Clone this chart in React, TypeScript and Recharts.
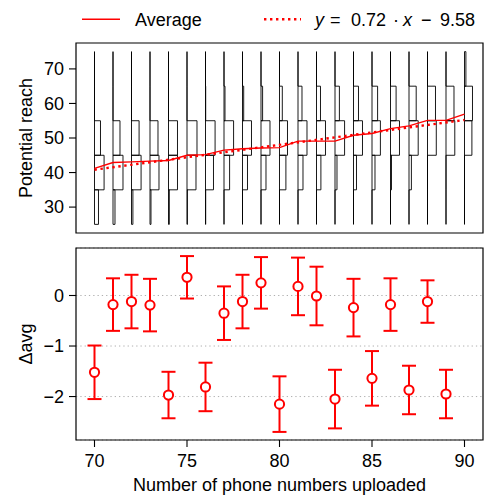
import React from 'react';
import {
  ComposedChart,
  ScatterChart,
  Line,
  Scatter,
  ErrorBar,
  XAxis,
  YAxis,
  CartesianGrid,
  ReferenceArea,
  Legend,
} from 'recharts';

// x positions (phone numbers uploaded)
const uploads = [70, 71, 72, 73, 74, 75, 76, 77, 78, 79, 80, 81, 82, 83, 84, 85, 86, 87, 88, 89, 90];

// reach bins, edges
const reachEdges = [25, 35, 45, 55, 65, 75];

// share of users per bin, per upload count (drawn as half-histograms to the right of x)
const bin25 = [0.2, 0.1, 0.07, 0.05, 0.04, 0.02, 0.01, 0, 0, 0, 0, 0, 0, 0, 0, 0, 0, 0, 0, 0, 0];
const bin35 = [0.48, 0.5, 0.48, 0.45, 0.45, 0.45, 0.4, 0.28, 0.25, 0.25, 0.32, 0.25, 0.22, 0.1, 0.15, 0.15, 0.05, 0.12, 0, 0, 0];
const bin45 = [0.3, 0.35, 0.38, 0.4, 0.45, 0.5, 0.48, 0.48, 0.45, 0.45, 0.4, 0.45, 0.45, 0.48, 0.45, 0.42, 0.45, 0.46, 0.44, 0.44, 0.37];
const bin55 = [0, 0, 0, 0, 0, 0, 0.01, 0.05, 0.06, 0.08, 0.14, 0.2, 0.2, 0.22, 0.25, 0.28, 0.28, 0.36, 0.4, 0.4, 0.4];
const bin65 = [0, 0, 0, 0, 0, 0, 0, 0, 0, 0, 0, 0, 0, 0, 0, 0, 0, 0, 0, 0, 0.07];

// average reach
const avgReach = [41.2, 42.9, 43.1, 43.3, 43.5, 45.0, 45.2, 46.5, 46.9, 47.1, 47.2, 49.1, 49.1, 49.1, 50.8, 51.3, 52.7, 53.5, 55.1, 55.1, 56.9];

// fit line y = 0.72x - 9.58, endpoints
const fitX = [70, 90];
const fitY = [40.82, 55.22];

// lower panel: delta of average with error
const deltaX = [70, 71, 72, 73, 74, 75, 76, 77, 78, 79, 80, 81, 82, 83, 84, 85, 86, 87, 88, 89];
const deltaAvg = [-1.52, -0.18, -0.12, -0.19, -1.97, 0.36, -1.81, -0.35, -0.12, 0.25, -2.15, 0.18, -0.01, -2.05, -0.24, -1.64, -0.18, -1.87, -0.12, -1.95];
const deltaErr = [0.53, 0.52, 0.53, 0.52, 0.46, 0.42, 0.48, 0.53, 0.53, 0.51, 0.55, 0.57, 0.58, 0.58, 0.57, 0.54, 0.52, 0.48, 0.42, 0.48];

const xTicks = [70, 75, 80, 85, 90];
const reachTicks = [30, 40, 50, 60, 70];
const deltaTicks = [-2, -1, 0];

const FONT = '"Liberation Sans", Arial, Helvetica, sans-serif';
const FS = 18;
const SHARE_TO_X = 1.08;
const RED = '#ff0000';

const bins = [bin25, bin35, bin45, bin55, bin65];

// outline of every box of one half-histogram, plus the spine at x
function histPath(i: number) {
  const x = uploads[i];
  const pts = [{ x, y: reachEdges[0] }];
  bins.forEach((b, k) => {
    const w = b[i] * SHARE_TO_X;
    pts.push({ x: x + w, y: reachEdges[k] });
    pts.push({ x: x + w, y: reachEdges[k + 1] });
    pts.push({ x, y: reachEdges[k + 1] });
  });
  pts.push({ x, y: reachEdges[0] });
  return pts;
}

const avgData = uploads.map((x, i) => ({ x, y: avgReach[i] }));
const fitData = fitX.map((x, i) => ({ x, y: fitY[i] }));
const deltaData = deltaX.map((x, i) => ({ x, y: deltaAvg[i], err: deltaErr[i] }));

const tickStyle = { fill: '#000', fontSize: FS, fontFamily: FONT };
const minus = (v: number) => (v < 0 ? '\u2212' + Math.abs(v) : String(v));

function LegendBox() {
  return (
    <svg width={484} height={40} style={{ display: 'block' }}>
      <line x1={82} x2={120} y1={16.3} y2={16.3} stroke={RED} strokeWidth={1.5} />
      <text x={135} y={22.8} fontSize={FS} fontFamily={FONT} fill="#000">Average</text>
      <line x1={264} x2={301} y1={16.3} y2={16.3} stroke={RED} strokeWidth={2.4} strokeDasharray="2.4 3.6" />
      <text y={22.8} fontSize={FS} fontFamily={FONT} fill="#000">
        <tspan x={315} fontStyle="italic">y</tspan>
        <tspan x={330}>=</tspan>
        <tspan x={351}>0.72</tspan>
        <tspan x={393}>·</tspan>
        <tspan x={403} fontStyle="italic">x</tspan>
        <tspan x={421}>−</tspan>
        <tspan x={440}>9.58</tspan>
      </text>
    </svg>
  );
}

export default function App() {
  return (
    <div style={{ position: 'absolute', left: 0, top: 0, width: 484, height: 497, background: '#fff', fontFamily: FONT }}>
      <ComposedChart width={484} height={240} margin={{ top: 3, right: 1, left: 0, bottom: 0 }}>
        <Legend verticalAlign="top" height={40} content={() => <LegendBox />} />
        <XAxis
          type="number"
          dataKey="x"
          domain={[69, 91]}
          allowDataOverflow
          ticks={xTicks}
          tick={false}
          tickSize={7}
          height={7}
          axisLine={false}
          tickLine={{ stroke: '#000', strokeWidth: 1.1 }}
        />
        <YAxis
          type="number"
          dataKey="y"
          domain={[22.5, 77.5]}
          allowDataOverflow
          ticks={reachTicks}
          width={76}
          tickSize={7}
          tickMargin={5}
          axisLine={false}
          tickLine={{ stroke: '#000', strokeWidth: 1.1 }}
          tick={tickStyle}
          label={{
            value: 'Potential reach',
            angle: -90,
            position: 'insideLeft',
            offset: 0,
            dx: 26,
            fill: '#000',
            fontSize: FS,
            fontFamily: FONT,
            style: { textAnchor: 'middle' },
          }}
        />
        {uploads.map((x, i) => (
          <Line
            key={'h' + x}
            data={histPath(i)}
            dataKey="y"
            type="linear"
            stroke="#000"
            strokeWidth={0.9}
            dot={false}
            activeDot={false}
            isAnimationActive={false}
          />
        ))}
        <Line data={fitData} dataKey="y" type="linear" stroke={RED} strokeWidth={2.4} strokeDasharray="2.4 3.6" dot={false} isAnimationActive={false} />
        <Line data={avgData} dataKey="y" type="linear" stroke={RED} strokeWidth={1.4} dot={false} isAnimationActive={false} />
        <ReferenceArea x1={69} x2={91} y1={22.5} y2={77.5} fill="none" stroke="#000" strokeWidth={1.2} fillOpacity={0} />
      </ComposedChart>

      <ScatterChart width={484} height={257} margin={{ top: 8, right: 1, left: 0, bottom: 0 }}>
        <CartesianGrid vertical={false} stroke="#b0b0b0" strokeDasharray="1.3 3" strokeWidth={1} />
        <XAxis
          type="number"
          dataKey="x"
          domain={[69, 91]}
          allowDataOverflow
          ticks={xTicks}
          height={57}
          tickSize={7}
          tickMargin={7}
          axisLine={false}
          tickLine={{ stroke: '#000', strokeWidth: 1.1 }}
          tick={tickStyle}
          label={{
            value: 'Number of phone numbers uploaded',
            position: 'insideBottom',
            offset: 6,
            fill: '#000',
            fontSize: FS,
            fontFamily: FONT,
          }}
        />
        <YAxis
          type="number"
          dataKey="y"
          domain={[-2.86, 0.94]}
          allowDataOverflow
          ticks={deltaTicks}
          tickFormatter={minus}
          width={76}
          tickSize={7}
          tickMargin={5}
          axisLine={false}
          tickLine={{ stroke: '#000', strokeWidth: 1.1 }}
          tick={tickStyle}
          label={{
            value: 'Δavg',
            angle: -90,
            position: 'insideLeft',
            offset: 0,
            dx: 26,
            fill: '#000',
            fontSize: FS,
            fontFamily: FONT,
            style: { textAnchor: 'middle' },
          }}
        />
        <Scatter
          data={deltaData}
          dataKey="y"
          isAnimationActive={false}
          shape={(p: any) => <circle cx={p.cx} cy={p.cy} r={4.6} fill="#fff" stroke={RED} strokeWidth={2} />}
        >
          <ErrorBar dataKey="err" direction="y" width={7} stroke={RED} strokeWidth={2} isAnimationActive={false} />
        </Scatter>
        <ReferenceArea x1={69} x2={91} y1={-2.86} y2={0.94} fill="none" stroke="#000" strokeWidth={1.2} fillOpacity={0} />
      </ScatterChart>
    </div>
  );
}
